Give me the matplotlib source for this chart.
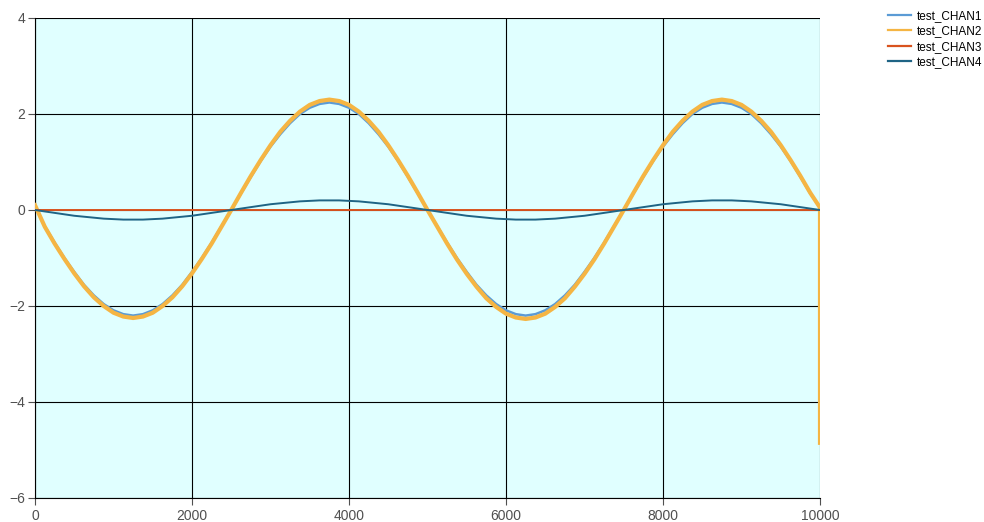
import matplotlib
matplotlib.use("Agg")
import matplotlib.pyplot as plt

plt.rcParams['font.family'] = ['Liberation Sans', 'DejaVu Sans']

# sample positions: every 125 along the run, last point repeats x=10000 (end drop)
x_samples = list(range(0, 10001, 125)) + [10000]

chan1 = [0.08, -0.34, -0.68, -1.00, -1.29, -1.56, -1.78, -1.96, -2.09, -2.17, -2.20,
         -2.17, -2.09, -1.96, -1.78, -1.56, -1.29, -1.00, -0.68, -0.34, 0.0,
         0.35, 0.69, 1.02, 1.32, 1.58, 1.81, 2.00, 2.13, 2.21, 2.24,
         2.21, 2.13, 2.00, 1.81, 1.58, 1.32, 1.02, 0.69, 0.35, 0.0,
         -0.34, -0.68, -1.00, -1.29, -1.56, -1.78, -1.96, -2.09, -2.17, -2.20,
         -2.17, -2.09, -1.96, -1.78, -1.56, -1.29, -1.00, -0.68, -0.34, 0.0,
         0.35, 0.69, 1.02, 1.32, 1.58, 1.81, 2.00, 2.13, 2.21, 2.24,
         2.21, 2.13, 2.00, 1.81, 1.58, 1.32, 1.02, 0.69, 0.35, 0.05,
         -0.50]

chan2 = [0.10, -0.35, -0.70, -1.02, -1.32, -1.59, -1.82, -2.00, -2.14, -2.22, -2.25,
         -2.22, -2.14, -2.00, -1.82, -1.59, -1.32, -1.02, -0.70, -0.35, 0.0,
         0.36, 0.71, 1.04, 1.35, 1.63, 1.86, 2.05, 2.19, 2.27, 2.30,
         2.27, 2.19, 2.05, 1.86, 1.63, 1.35, 1.04, 0.71, 0.36, 0.0,
         -0.35, -0.70, -1.03, -1.33, -1.60, -1.84, -2.02, -2.16, -2.24, -2.27,
         -2.24, -2.16, -2.02, -1.84, -1.60, -1.33, -1.03, -0.70, -0.35, 0.0,
         0.36, 0.71, 1.04, 1.35, 1.63, 1.86, 2.05, 2.19, 2.27, 2.30,
         2.27, 2.19, 2.05, 1.86, 1.63, 1.35, 1.04, 0.71, 0.36, 0.05,
         -4.85]

chan4 = [0.0, -0.03, -0.06, -0.09, -0.12, -0.14, -0.16, -0.18, -0.19, -0.20, -0.20,
         -0.20, -0.19, -0.18, -0.16, -0.14, -0.12, -0.09, -0.06, -0.03, 0.0,
         0.03, 0.06, 0.09, 0.12, 0.14, 0.16, 0.18, 0.19, 0.20, 0.20,
         0.20, 0.19, 0.18, 0.16, 0.14, 0.12, 0.09, 0.06, 0.03, 0.0,
         -0.03, -0.06, -0.09, -0.12, -0.14, -0.16, -0.18, -0.19, -0.20, -0.20,
         -0.20, -0.19, -0.18, -0.16, -0.14, -0.12, -0.09, -0.06, -0.03, 0.0,
         0.03, 0.06, 0.09, 0.12, 0.14, 0.16, 0.18, 0.19, 0.20, 0.20,
         0.20, 0.19, 0.18, 0.16, 0.14, 0.12, 0.09, 0.06, 0.03, 0.0,
         0.0]

chan3_x = [0, 10000]
chan3 = [0.0, 0.0]

x_ticks = [0, 2000, 4000, 6000, 8000, 10000]
y_ticks = [-6, -4, -2, 0, 2, 4]

fig = plt.figure(figsize=(9.84, 5.22), dpi=100)
ax = fig.add_axes([35 / 984, 1 - 498 / 522, 785 / 984, 480 / 522])
ax.set_facecolor('#e0ffff')

l1, = ax.plot(x_samples, chan1, color='#5b9bd5', lw=1.8, label='test_CHAN1', zorder=3)
l2, = ax.plot(x_samples, chan2, color='#f5b543', lw=3.0, label='test_CHAN2', zorder=4)
l3, = ax.plot(chan3_x, chan3, color='#d9531e', lw=1.4, label='test_CHAN3', zorder=5)
l4, = ax.plot(x_samples, chan4, color='#1f6485', lw=1.4, label='test_CHAN4', zorder=6)

ax.set_xlim(0, 10000)
ax.set_ylim(-6, 4)
ax.set_xticks(x_ticks)
ax.set_yticks(y_ticks)
ax.grid(True, color='black', lw=0.8, zorder=1)
ax.set_axisbelow(True)

for side in ['top', 'right']:
    ax.spines[side].set_visible(False)
ax.spines['left'].set_color('black')
ax.spines['bottom'].set_color('black')
ax.tick_params(axis='both', colors='#505050', labelsize=10, length=5, width=0.8)
ax.tick_params(axis='y', pad=2)
ax.tick_params(axis='x', pad=3)

leg = fig.legend(handles=[l1, l2, l3, l4], loc='upper left', bbox_to_anchor=(0.895, 0.995),
                 frameon=False, fontsize=8.5, handlelength=2.0, handletextpad=0.5,
                 labelspacing=0.3, borderaxespad=0.2)
for h in leg.legend_handles:
    h.set_linewidth(1.6)

fig.savefig('out.png', dpi=100)
